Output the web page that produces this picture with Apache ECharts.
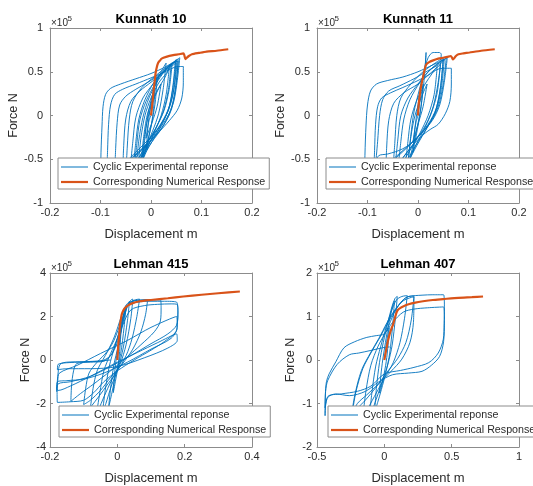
<!DOCTYPE html>
<html>
<head>
<meta charset="utf-8">
<script src="https://cdn.jsdelivr.net/npm/echarts@6/dist/echarts.min.js"></script>
<style>
  html, body { margin: 0; padding: 0; background: #fff; }
  #chart { width: 533px; height: 486px; }
</style>
</head>
<body>
<div id="chart"></div>
<script>
// Displacement in m, force in units of 1e5 N.
const panelTitles = ['Kunnath 10', 'Kunnath 11', 'Lehman 415', 'Lehman 407'];
const seriesNames = ['Cyclic Experimental reponse', 'Corresponding Numerical Response'];
const xAxisName = 'Displacement m';
const yAxisName = 'Force N';
const forceExponent = '5';

// axis ranges: [min, max, step]
const xRanges = [[-0.2, 0.2, 0.1], [-0.2, 0.2, 0.1], [-0.2, 0.4, 0.2], [-0.5, 1, 0.5]];
const yRanges = [[-1, 1, 0.5], [-1, 1, 0.5], [-4, 4, 2], [-2, 2, 1]];

const k10Cyclic = [
  [0,0],[0.004,0.16],[0.008,0.3],[0.005,0.08],[0.001,-0.1],[-0.005,-0.26],[-0.009,-0.38],[-0.006,-0.12],[-0.002,0.06],
  [0.005,0.28],[0.012,0.44],[0.009,0.18],[0.003,-0.04],[-0.006,-0.28],[-0.016,-0.5],[-0.011,-0.2],[-0.005,0.04],
  [0.006,0.3],[0.02,0.5],[0.03,0.6],[0.024,0.3],[0.015,0.02],[0.003,-0.18],[-0.012,-0.38],[-0.028,-0.6],[-0.034,-0.68],[-0.028,-0.32],[-0.022,-0.05],[-0.01,0.16],[0.008,0.36],
  [0.025,0.5],[0.045,0.6],[0.05,0.64],[0.044,0.34],[0.036,0.1],[0.022,-0.07],[0.002,-0.24],[-0.02,-0.4],[-0.038,-0.56],[-0.05,-0.7],[-0.047,-0.36],[-0.043,-0.04],[-0.036,0.16],[-0.018,0.32],[0.006,0.44],[0.03,0.55],[0.054,0.64],
  [0.05,0.36],[0.041,0.08],[0.026,-0.1],[0.004,-0.26],[-0.022,-0.4],[-0.05,-0.54],[-0.078,-0.66],[-0.1,-0.76],[-0.099,-0.42],[-0.097,-0.12],[-0.095,0.1],[-0.09,0.24],[-0.08,0.31],[-0.06,0.36],[-0.03,0.42],[0,0.48],[0.03,0.56],[0.057,0.66],
  [0.052,0.4],[0.045,0.16],[0.032,-0.02],[0.016,-0.16],[-0.004,-0.32],[-0.022,-0.5],[-0.03,-0.62],[-0.024,-0.28],[-0.016,-0.02],[-0.004,0.2],[0.014,0.4],[0.032,0.54],[0.042,0.6],[0.036,0.3],[0.026,0.06],[0.01,-0.14],[-0.01,-0.34],[-0.026,-0.52],[-0.036,-0.64],[-0.03,-0.3],[-0.024,-0.04],[-0.012,0.18],[0.006,0.38],[0.026,0.52],[0.048,0.62],
  [0.043,0.32],[0.034,0.06],[0.018,-0.12],[-0.006,-0.28],[-0.034,-0.44],[-0.062,-0.6],[-0.088,-0.74],[-0.086,-0.4],[-0.084,-0.1],[-0.08,0.12],[-0.072,0.24],[-0.056,0.3],[-0.03,0.36],[0,0.43],[0.028,0.5],[0.046,0.55],[0.058,0.56],[0.064,0.56],
  [0.064,0.38],[0.061,0.2],[0.052,0.06],[0.036,-0.06],[0.014,-0.2],[-0.012,-0.36],[-0.04,-0.5],[-0.066,-0.62],[-0.072,-0.7],[-0.07,-0.38],[-0.067,-0.08],[-0.062,0.12],[-0.05,0.22],[-0.03,0.3],[-0.006,0.38],[0.02,0.48],[0.04,0.58],[0.052,0.62],
  [0.046,0.32],[0.036,0.08],[0.02,-0.1],[0,-0.28],[-0.016,-0.46],[-0.026,-0.6],[-0.02,-0.26],[-0.012,0],[0,0.2],[0.016,0.38],[0.03,0.48],[0.04,0.58],
  [0.034,0.28],[0.024,0.04],[0.008,-0.16],[-0.012,-0.36],[-0.03,-0.54],[-0.042,-0.66],[-0.036,-0.3],[-0.03,-0.02],[-0.016,0.2],[0.004,0.36],[0.024,0.5],[0.044,0.6],[0.054,0.62],
  [0.048,0.3],[0.038,0.04],[0.022,-0.14],[0.002,-0.3],[-0.02,-0.48],[-0.044,-0.6],[-0.056,-0.66],[-0.054,-0.34],[-0.05,-0.04],[-0.04,0.16],[-0.022,0.28],[0,0.38],[0.022,0.48],[0.04,0.56],[0.05,0.6],
  [0.044,0.26],[0.03,0],[0.012,-0.2],[-0.008,-0.4],[-0.02,-0.56],[-0.014,-0.22],[-0.006,0.04],[0.01,0.26],[0.028,0.44],[0.036,0.54],
  [0.03,0.24],[0.02,0],[0.006,-0.2],[-0.008,-0.38],[-0.018,-0.52],[-0.012,-0.2],[-0.004,0.02],[0.008,0.22],[0.02,0.36],[0.012,0.1],[0.002,-0.08],[-0.01,-0.26],[-0.004,-0.06],[0,0]
];
const k10Numeric = [
  [0,0],[0.002,0.1],[0.0046,0.25],[0.007,0.38],[0.009,0.48],[0.011,0.54],[0.014,0.6],[0.018,0.63],[0.021,0.65],[0.03,0.67],[0.044,0.69],
  [0.055,0.7],[0.064,0.71],[0.066,0.69],[0.068,0.645],[0.07,0.655],[0.075,0.68],[0.081,0.7],[0.095,0.715],[0.11,0.73],[0.13,0.74],[0.153,0.757]
];

const k11Cyclic = [
  [0,0],[0.005,0.2],[0.01,0.36],[0.006,0.1],[0,-0.12],[-0.006,-0.3],[-0.01,-0.42],[-0.006,-0.14],[-0.001,0.08],
  [0.006,0.34],[0.014,0.56],[0.016,0.72],[0.012,0.4],[0.006,0.1],[-0.004,-0.2],[-0.014,-0.44],[-0.02,-0.56],[-0.014,-0.22],[-0.008,0.04],[0.002,0.28],[0.012,0.5],[0.02,0.66],[0.03,0.72],[0.042,0.72],[0.046,0.7],
  [0.04,0.38],[0.03,0.1],[0.016,-0.1],[-0.004,-0.28],[-0.024,-0.44],[-0.042,-0.58],[-0.05,-0.66],[-0.046,-0.32],[-0.042,0],[-0.034,0.2],[-0.014,0.36],[0.01,0.5],[0.034,0.6],[0.05,0.66],
  [0.045,0.34],[0.036,0.08],[0.02,-0.1],[-0.002,-0.26],[-0.03,-0.38],[-0.06,-0.44],[-0.078,-0.46],[-0.084,-0.56],[-0.08,-0.3],[-0.076,0],[-0.07,0.18],[-0.058,0.28],[-0.036,0.34],[-0.008,0.42],[0.022,0.52],[0.046,0.6],[0.056,0.66],
  [0.05,0.36],[0.04,0.1],[0.024,-0.08],[0,-0.24],[-0.03,-0.4],[-0.062,-0.56],[-0.09,-0.68],[-0.106,-0.76],[-0.105,-0.44],[-0.103,-0.12],[-0.1,0.12],[-0.094,0.28],[-0.082,0.36],[-0.06,0.4],[-0.03,0.44],[0,0.5],[0.03,0.58],[0.058,0.66],
  [0.052,0.38],[0.043,0.12],[0.028,-0.06],[0.004,-0.22],[-0.024,-0.38],[-0.05,-0.52],[-0.07,-0.62],[-0.088,-0.72],[-0.086,-0.4],[-0.084,-0.1],[-0.08,0.1],[-0.072,0.2],[-0.054,0.26],[-0.03,0.32],[0,0.4],[0.02,0.46],[0.04,0.53],[0.056,0.54],[0.066,0.54],
  [0.066,0.36],[0.063,0.16],[0.054,0.02],[0.04,-0.1],[0.024,-0.16],[0.006,-0.24],[-0.016,-0.38],[-0.034,-0.52],[-0.04,-0.64],[-0.034,-0.3],[-0.028,-0.04],[-0.016,0.18],[0.004,0.38],[0.024,0.52],[0.042,0.6],[0.05,0.64],
  [0.044,0.3],[0.034,0.04],[0.018,-0.14],[-0.002,-0.34],[-0.018,-0.52],[-0.026,-0.64],[-0.02,-0.3],[-0.014,-0.04],[-0.002,0.18],[0.014,0.36],[0.028,0.48],[0.038,0.56],
  [0.032,0.24],[0.02,0],[0.004,-0.2],[-0.016,-0.4],[-0.034,-0.56],[-0.046,-0.62],[-0.04,-0.28],[-0.034,0],[-0.02,0.2],[0,0.36],[0.02,0.5],[0.04,0.6],[0.052,0.64],
  [0.046,0.3],[0.036,0.06],[0.02,-0.12],[0,-0.3],[-0.022,-0.5],[-0.056,-0.6],[-0.064,-0.68],[-0.062,-0.36],[-0.058,-0.06],[-0.048,0.14],[-0.028,0.26],[0,0.36],[0.024,0.48],[0.044,0.58],
  [0.038,0.26],[0.026,0.02],[0.01,-0.18],[-0.008,-0.38],[-0.02,-0.56],[-0.014,-0.24],[-0.006,0],[0.006,0.2],[0.018,0.36],[0.01,0.1],[0,-0.1],[-0.01,-0.3],[-0.004,-0.08],[0,0]
];
const k11Numeric = [
  [0,0],[0.001,0.1],[0.003,0.21],[0.006,0.33],[0.01,0.44],[0.013,0.52],[0.016,0.58],[0.022,0.61],[0.03,0.63],[0.04,0.65],[0.05,0.66],
  [0.058,0.67],[0.065,0.68],[0.067,0.665],[0.069,0.64],[0.071,0.65],[0.075,0.68],[0.08,0.7],[0.09,0.71],[0.102,0.72],[0.125,0.74],[0.152,0.757]
];

const l415Cyclic = [
  [0,0],[0.006,0.8],[0.011,1.4],[0.008,0.6],[0.002,-0.3],[-0.006,-1.0],[-0.012,-1.5],[-0.008,-0.6],[-0.002,0.2],
  [0.008,1.1],[0.018,2.0],[0.026,2.5],[0.02,1.5],[0.01,0.3],[-0.004,-0.6],[-0.016,-1.5],[-0.026,-2.2],[-0.02,-1.3],[-0.01,-0.2],[0.002,0.6],
  [0.014,1.5],[0.026,2.3],[0.036,2.7],[0.03,1.8],[0.018,0.6],[0.002,-0.4],[-0.018,-1.2],[-0.034,-2.0],[-0.044,-2.4],[-0.036,-1.4],[-0.024,-0.3],[-0.008,0.6],
  [0.01,1.4],[0.026,2.3],[0.04,2.75],[0.046,2.8],[0.04,1.9],[0.026,0.7],[0.008,-0.2],[-0.016,-0.9],[-0.04,-1.7],[-0.056,-2.3],[-0.062,-2.5],[-0.052,-1.5],[-0.04,-0.5],[-0.02,0.3],
  [0,1.0],[0.016,1.9],[0.03,2.5],[0.05,2.75],[0.066,2.8],[0.058,2.0],[0.044,1.0],[0.026,0.2],[0,-0.5],[-0.028,-1.1],[-0.056,-1.7],[-0.076,-2.1],[-0.08,-2.2],[-0.072,-1.3],[-0.06,-0.5],[-0.036,0.2],[-0.01,0.9],
  [0.012,1.8],[0.03,2.5],[0.05,2.72],[0.07,2.76],[0.09,2.78],[0.084,2.1],[0.07,1.3],[0.046,0.5],[0.014,-0.2],[-0.02,-0.8],[-0.05,-1.4],[-0.08,-1.85],[-0.1,-2.05],[-0.094,-1.3],[-0.084,-0.6],[-0.06,-0.1],[-0.03,0.4],[-0.008,1.1],
  [0.012,2.0],[0.03,2.6],[0.06,2.74],[0.1,2.76],[0.128,2.76],[0.13,2.4],[0.128,1.8],[0.11,1.3],[0.07,0.7],[0.03,0.15],[-0.02,-0.5],[-0.07,-1.1],[-0.11,-1.55],[-0.138,-1.9],[-0.136,-1.2],[-0.13,-0.5],[-0.12,-0.16],[-0.08,-0.1],[-0.04,-0.06],[-0.016,0.3],[0,1.0],[0.014,1.8],
  [0.03,2.5],[0.06,2.66],[0.1,2.7],[0.14,2.7],[0.176,2.66],[0.18,2.2],[0.178,1.7],[0.174,1.3],[0.14,0.85],[0.1,0.45],[0.05,0],[0,-0.5],[-0.04,-1.0],[-0.07,-1.5],[-0.1,-1.85],[-0.14,-1.92],[-0.178,-1.95],[-0.179,-1.3],[-0.176,-0.6],[-0.17,-0.2],[-0.15,-0.1],[-0.1,-0.08],[-0.05,-0.05],[-0.02,0.2],[0,0.8],[0.016,1.6],
  [0.04,2.3],[0.08,2.5],[0.12,2.56],[0.16,2.58],[0.178,2.55],[0.18,2.1],[0.176,1.6],[0.15,1.2],[0.1,0.75],[0.04,0.2],[-0.02,-0.3],[-0.08,-0.75],[-0.14,-1.0],[-0.176,-1.1],[-0.18,-1.45],[-0.177,-0.95],[-0.172,-0.6],[-0.12,-0.25],[-0.05,0.3],[0.03,0.9],[0.1,1.5],[0.176,2.0],
  [0.178,1.5],[0.16,1.0],[0.1,0.5],[0.03,-0.1],[-0.04,-0.6],[-0.1,-0.88],[-0.15,-0.95],[-0.178,-1.0],[-0.18,-1.3],[-0.176,-1.4],[-0.14,-1.2],[-0.08,-0.75],[0,-0.1],[0.06,0.35],[0.12,0.8],[0.176,1.2],
  [0.178,0.9],[0.15,0.55],[0.08,0.1],[0,-0.3],[-0.08,-0.4],[-0.15,-0.4],[-0.178,-0.45],[-0.176,-0.2],[-0.12,-0.1],[-0.06,-0.05],[-0.02,0]
];
const l415Numeric = [
  [0,0],[0.003,0.73],[0.006,1.2],[0.008,1.64],[0.011,1.9],[0.013,2.09],[0.017,2.25],[0.022,2.38],[0.028,2.47],[0.04,2.58],
  [0.067,2.7],[0.1,2.76],[0.15,2.84],[0.196,2.92],[0.25,3.0],[0.3,3.07],[0.364,3.15]
];

const l407Cyclic = [
  [0,0],[0.012,0.3],[0.024,0.55],[0.036,0.74],[0.028,0.36],[0.014,-0.04],[-0.008,-0.42],[-0.024,-0.64],[-0.036,-0.76],[-0.026,-0.36],[-0.012,0],[0.004,0.32],
  [0.022,0.66],[0.044,1.0],[0.062,1.24],[0.075,1.36],[0.062,0.8],[0.04,0.16],[0.012,-0.28],[-0.022,-0.68],[-0.05,-0.98],[-0.072,-1.2],[-0.058,-0.62],[-0.036,-0.06],[-0.008,0.4],
  [0.026,0.86],[0.056,1.22],[0.08,1.42],[0.096,1.46],[0.082,0.96],[0.058,0.34],[0.026,-0.1],[-0.016,-0.5],[-0.06,-0.9],[-0.09,-1.16],[-0.11,-1.3],[-0.092,-0.74],[-0.064,-0.14],[-0.028,0.3],
  [0.014,0.76],[0.05,1.1],[0.09,1.38],[0.13,1.46],[0.17,1.48],[0.15,0.96],[0.116,0.4],[0.066,-0.06],[0,-0.42],[-0.06,-0.76],[-0.12,-1.1],[-0.16,-1.32],[-0.136,-0.7],[-0.1,-0.12],[-0.046,0.32],
  [0.02,0.7],[0.07,1.06],[0.12,1.32],[0.17,1.45],[0.22,1.47],[0.2,0.92],[0.16,0.4],[0.1,0.04],[0.02,-0.28],[-0.06,-0.62],[-0.14,-0.92],[-0.2,-1.12],[-0.25,-1.4],[-0.22,-0.82],[-0.17,-0.24],[-0.1,0.18],[-0.04,0.5],
  [0.02,0.86],[0.08,1.16],[0.14,1.36],[0.2,1.44],[0.22,1.45],[0.216,0.86],[0.19,0.4],[0.13,0.02],[0.05,-0.26],[-0.04,-0.54],[-0.13,-0.8],[-0.2,-1.0],[-0.24,-1.25],[-0.21,-0.72],[-0.16,-0.2],[-0.1,0.16],[-0.04,0.48],
  [0.02,0.82],[0.08,1.14],[0.14,1.38],[0.18,1.46],[0.28,1.49],[0.36,1.5],[0.44,1.5],[0.446,1.2],[0.444,0.84],[0.438,0.48],[0.4,0.16],[0.33,-0.06],[0.22,-0.17],[0.12,-0.24],[0,-0.32],[-0.1,-0.6],[-0.2,-0.72],[-0.32,-0.78],[-0.42,-0.84],[-0.44,-1.28],
  [-0.438,-0.8],[-0.43,-0.5],[-0.41,-0.32],[-0.36,-0.04],[-0.3,0.28],[-0.22,0.42],[-0.13,0.52],[-0.06,0.56],[0,0.6],[0.06,0.86],
  [0.14,1.1],[0.22,1.17],[0.32,1.2],[0.44,1.22],[0.446,0.9],[0.44,0.42],[0.41,0.08],[0.35,-0.12],[0.28,-0.26],[0.18,-0.3],[0.06,-0.34],[-0.04,-0.5],[-0.14,-0.72],[-0.26,-0.82],[-0.36,-0.78],[-0.42,-0.86],[-0.44,-1.1],
  [-0.436,-0.72],[-0.42,-0.47],[-0.35,-0.1],[-0.26,0.12],[-0.19,0.16],[-0.1,0.22],[0,0.29],[0.04,0.3]
];
const l407Numeric = [
  [0,0],[0.01,0.17],[0.02,0.33],[0.027,0.44],[0.04,0.6],[0.053,0.72],[0.065,0.82],[0.078,0.96],[0.089,1.08],[0.1,1.15],[0.12,1.2],
  [0.139,1.23],[0.18,1.28],[0.23,1.32],[0.287,1.35],[0.36,1.38],[0.436,1.4],[0.55,1.43],[0.65,1.445],[0.733,1.46]
];

const cyclicData = [k10Cyclic, k11Cyclic, l415Cyclic, l407Cyclic];
const numericData = [k10Numeric, k11Numeric, l415Numeric, l407Numeric];

// ---- layout & style ----
const FONT = '"Liberation Sans", Arial, Helvetica, sans-serif';
const AXIS_COLOR = '#8c8c8c';
const TEXT_COLOR = '#2b2b2b';
const BLUE = '#0072BD';
const ORANGE = '#D95319';

const layout = [
  { left: 50,  top: 28,  width: 202, height: 175, yGap: 30, yMargin: 7, legend: [58, 158] },
  { left: 317, top: 28,  width: 202, height: 175, yGap: 25, yMargin: 7, legend: [326, 158] },
  { left: 50,  top: 273, width: 202, height: 176, yGap: 18, yMargin: 4, legend: [59, 406] },
  { left: 317, top: 273, width: 202, height: 176, yGap: 20, yMargin: 5, legend: [328, 406] }
];

// flat line-shaped legend keys (kept to their aspect inside the item box)
const legendKeys = ['path://M0,0H27V1H0Z', 'path://M0,0H27V2.2H0Z'];

const grid = [], xAxis = [], yAxis = [], series = [], legend = [], graphic = [];

layout.forEach((p, i) => {
  grid.push({ left: p.left, top: p.top, width: p.width, height: p.height, containLabel: false });
  const [xmin, xmax, xstep] = xRanges[i];
  const [ymin, ymax, ystep] = yRanges[i];
  const line = { show: true, onZero: false, lineStyle: { color: AXIS_COLOR, width: 1 } };
  const tick = { show: true, inside: true, length: 3, lineStyle: { color: AXIS_COLOR, width: 1 } };
  const label = { fontSize: 11, fontFamily: FONT, color: TEXT_COLOR };

  xAxis.push({
    type: 'value', gridIndex: i, position: 'bottom', min: xmin, max: xmax, interval: xstep,
    axisLine: line, axisTick: tick, splitLine: { show: false },
    axisLabel: Object.assign({ margin: 4 }, label),
    name: xAxisName, nameLocation: 'middle', nameGap: 25,
    nameTextStyle: { fontSize: 13, fontFamily: FONT, color: TEXT_COLOR }
  });
  xAxis.push({
    type: 'value', gridIndex: i, position: 'top', min: xmin, max: xmax, interval: xstep,
    axisLine: line, axisTick: tick, splitLine: { show: false }, axisLabel: { show: false }
  });
  yAxis.push({
    type: 'value', gridIndex: i, position: 'left', min: ymin, max: ymax, interval: ystep,
    axisLine: line, axisTick: tick, splitLine: { show: false },
    axisLabel: Object.assign({ margin: p.yMargin }, label),
    name: yAxisName, nameLocation: 'middle', nameGap: p.yGap,
    nameTextStyle: { fontSize: 12.5, fontFamily: FONT, color: TEXT_COLOR }
  });
  yAxis.push({
    type: 'value', gridIndex: i, position: 'right', min: ymin, max: ymax, interval: ystep,
    axisLine: line, axisTick: tick, splitLine: { show: false }, axisLabel: { show: false }
  });

  series.push({
    name: seriesNames[0], type: 'line', xAxisIndex: 2 * i, yAxisIndex: 2 * i,
    data: cyclicData[i], symbol: 'none', smooth: 0.3, z: 2,
    lineStyle: { color: BLUE, width: 0.9 }, itemStyle: { color: BLUE }
  });
  series.push({
    name: seriesNames[1], type: 'line', xAxisIndex: 2 * i, yAxisIndex: 2 * i,
    data: numericData[i], symbol: 'none', smooth: 0.2, z: 3,
    lineStyle: { color: ORANGE, width: 2.2 }, itemStyle: { color: ORANGE }
  });

  legend.push({
    show: true, orient: 'vertical', left: p.legend[0], top: p.legend[1],
    data: seriesNames.map((name, k) => ({ name, icon: legendKeys[k] })),
    selectedMode: false, symbolKeepAspect: true,
    padding: [3, 4, 1, 3], itemGap: 3, itemWidth: 27, itemHeight: 12,
    itemStyle: { borderWidth: 0 },
    backgroundColor: '#ffffff', borderColor: AXIS_COLOR, borderWidth: 1, borderRadius: 0,
    textStyle: { fontSize: 10.7, fontFamily: FONT, color: TEXT_COLOR, lineHeight: 12 }
  });

  // panel title
  graphic.push({
    type: 'text', x: p.left + p.width / 2, y: p.top - 9,
    style: { text: panelTitles[i], fill: '#000', fontSize: 13, fontWeight: 'bold', fontFamily: FONT,
             align: 'center', verticalAlign: 'middle' }
  });
  // force exponent marker above the y axis
  graphic.push({
    type: 'text', x: p.left + 1, y: p.top - 5,
    style: { text: '\u00d710', fill: TEXT_COLOR, fontSize: 10, fontFamily: FONT, align: 'left', verticalAlign: 'middle' }
  });
  graphic.push({
    type: 'text', x: p.left + 17.5, y: p.top - 9,
    style: { text: forceExponent, fill: TEXT_COLOR, fontSize: 8, fontFamily: FONT, align: 'left', verticalAlign: 'middle' }
  });
});

const chart = echarts.init(document.getElementById('chart'), null, { renderer: 'canvas' });
chart.setOption({
  animation: false,
  backgroundColor: '#ffffff',
  grid, xAxis, yAxis, series, legend, graphic
});
</script>
</body>
</html>
